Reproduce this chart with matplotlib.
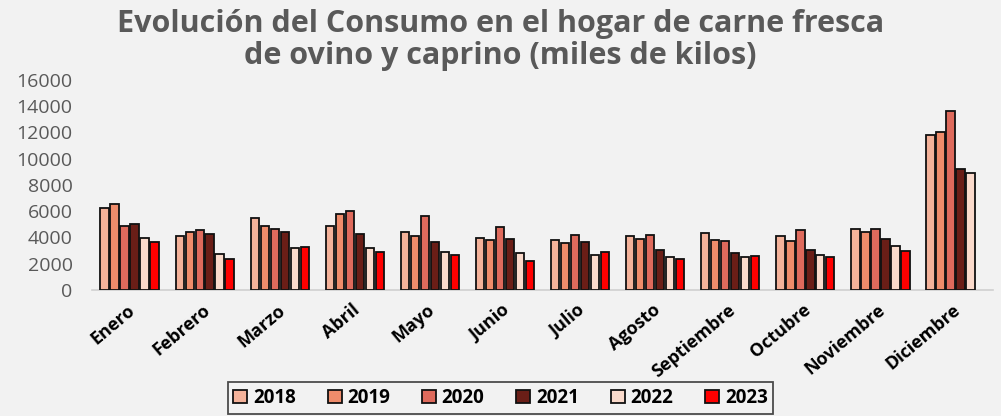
import numpy as np
import matplotlib
matplotlib.use("Agg")
import matplotlib.pyplot as plt

meses = ['Enero', 'Febrero', 'Marzo', 'Abril', 'Mayo', 'Junio', 'Julio',
         'Agosto', 'Septiembre', 'Octubre', 'Noviembre', 'Diciembre']
anios = ['2018', '2019', '2020', '2021', '2022', '2023']

v2018 = [6230, 4090, 5510, 4850, 4440, 3960, 3810, 4090, 4340, 4110, 4620, 11830]
v2019 = [6530, 4420, 4900, 5770, 4140, 3810, 3580, 3910, 3830, 3730, 4390, 12040]
v2020 = [4900, 4600, 4670, 6040, 5610, 4830, 4220, 4190, 3730, 4600, 4670, 13660]
v2021 = [5050, 4290, 4390, 4270, 3660, 3890, 3680, 3070, 2820, 3070, 3910, 9200]
v2022 = [3960, 2770, 3220, 3220, 2870, 2790, 2690, 2490, 2510, 2690, 3380, 8910]
v2023 = [3630, 2340, 3280, 2920, 2670, 2180, 2900, 2380, 2570, 2540, 2990, np.nan]

series = [v2018, v2019, v2020, v2021, v2022, v2023]
colores = ['#F4B29A', '#EF8C6B', '#DE6A5C', '#6A1E17', '#FADACB', '#FF0000']

bg = '#F2F2F2'
fig = plt.figure(figsize=(10.01, 4.16), dpi=100, facecolor=bg)
ax = fig.add_axes([0.092, 0.303, 0.9, 0.505], facecolor=bg)

x = np.arange(len(meses))
paso = 0.133
ancho = 0.112
for i, (vals, c) in enumerate(zip(series, colores)):
    ax.bar(x + (i - 2.5) * paso, vals, ancho, color=c, edgecolor='#111111',
           linewidth=1.3, label=anios[i], zorder=3)

ax.set_xlim(-0.5, 11.5)
ax.set_ylim(0, 16000)
ax.set_yticks(np.arange(0, 16001, 2000))
ax.set_yticklabels([str(v) for v in range(0, 16001, 2000)],
                   fontsize=14, color='#595959', family='Open Sans')
ax.tick_params(axis='y', length=0, pad=14)
ax.set_xticks(x - 0.04)
ax.set_xticklabels(meses, rotation=40, ha='right', rotation_mode='anchor',
                   fontsize=13, fontweight='bold', family='Open Sans')
ax.tick_params(axis='x', length=0, pad=8)

for s in ['top', 'right', 'left']:
    ax.spines[s].set_visible(False)
ax.spines['bottom'].set_color('#D0D0D0')
ax.spines['bottom'].set_linewidth(1.2)

fig.text(0.5, 0.978, 'Evolución del Consumo en el hogar de carne fresca\n'
         'de ovino y caprino (miles de kilos)', ha='center', va='top',
         fontsize=22, fontweight='bold', color='#595959', family='Open Sans',
         linespacing=1.1)

leg = fig.legend(loc='center', bbox_to_anchor=(0.5, 0.043),
                 ncol=6, frameon=True, fancybox=False, edgecolor='#222222',
                 facecolor=bg, prop={'weight': 'bold', 'size': 13.5, 'family': 'Open Sans'},
                 handlelength=0.75, handleheight=0.75, handletextpad=0.3,
                 columnspacing=1.7, borderpad=0.3)
leg.get_frame().set_linewidth(1.3)

fig.savefig('out.png', dpi=100, facecolor=bg)
